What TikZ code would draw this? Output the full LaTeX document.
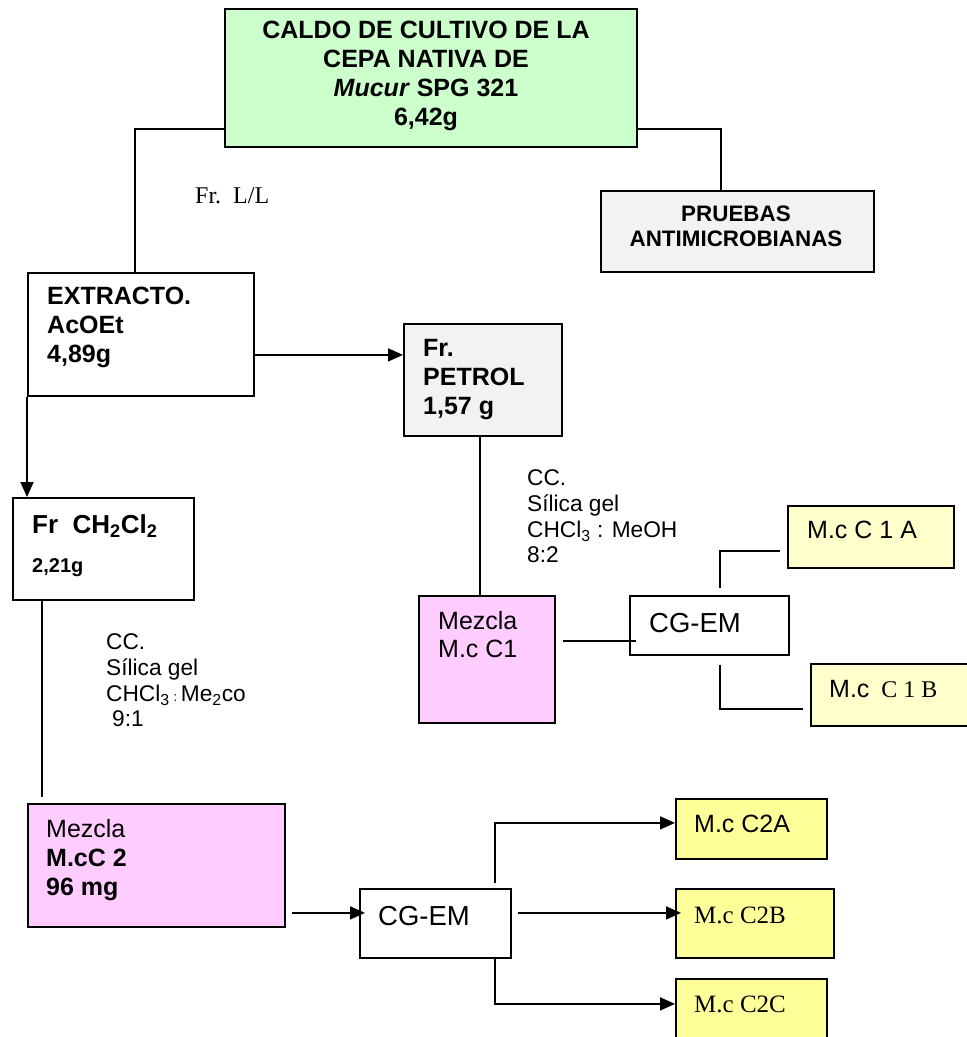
\documentclass[tikz,border=0pt]{standalone}
\usepackage{fontspec}
\setmainfont{Liberation Sans}
\newfontfamily\tnr{Liberation Serif}
\usetikzlibrary{arrows.meta}
\definecolor{cgreen}{HTML}{CCFFCC}
\definecolor{cgray}{HTML}{F2F2F2}
\definecolor{cpink}{HTML}{FFCCFF}
\definecolor{cpale}{HTML}{FFFFCC}
\definecolor{cyel}{HTML}{FFFF99}
\newcommand\fsz[2]{\fontsize{#1}{#2}\selectfont}
\begin{document}
\begin{tikzpicture}[x=1pt,y=-1pt,
  box/.style={draw=black, line width=1.8pt, inner sep=0pt, anchor=north west},
  conn/.style={line width=1.7pt},
  arr/.style={conn, -{Triangle[length=15pt,width=13pt]}},
  txt/.style={inner sep=0pt, align=left},
]
\useasboundingbox[fill=white] (0,0) rectangle (967,1037);

% boxes
\node[box, fill=cgreen, minimum width=412pt, minimum height=138pt] (top) at (224,8) {};
\node[box, fill=cgray, minimum width=273pt, minimum height=81pt] (pru) at (600,190) {};
\node[box, fill=white, minimum width=226pt, minimum height=123pt] (ext) at (27,272) {};
\node[box, fill=cgray, minimum width=158pt, minimum height=112pt] (pet) at (403,323) {};
\node[box, fill=white, minimum width=181pt, minimum height=102pt] (ch) at (12,497) {};
\node[box, fill=cpink, minimum width=136pt, minimum height=127pt] (mc1) at (418,595) {};
\node[box, fill=white, minimum width=159pt, minimum height=59pt] (cg1) at (629,595) {};
\node[box, fill=cpale, minimum width=166pt, minimum height=62pt] (c1a) at (787,505) {};
\node[box, fill=cpale, minimum width=158pt, minimum height=62pt] (c1b) at (810,663) {};
\node[box, fill=cpink, minimum width=257pt, minimum height=123pt] (mc2) at (27,803) {};
\node[box, fill=white, minimum width=151pt, minimum height=69pt] (cg2) at (359,888) {};
\node[box, fill=cyel, minimum width=151pt, minimum height=60pt] (c2a) at (675,798) {};
\node[box, fill=cyel, minimum width=158pt, minimum height=69pt] (c2b) at (675,888) {};
\node[box, fill=cyel, minimum width=151pt, minimum height=64pt] (c2c) at (675,978) {};

% texts
\node[txt, align=center, anchor=north, font=\fsz{25}{29}\bfseries] (toptxt) at (426,21.1)
  {CALDO DE CULTIVO DE LA\\CEPA NATIVA DE\\\textit{Mucur} SPG 321\\6,42g};
\node[txt, align=center, anchor=north, font=\fsz{22.4}{25}\bfseries] (prutxt) at (736,206)
  {PRUEBAS\\ANTIMICROBIANAS};
\node[txt, anchor=base west, font=\fsz{24}{28}\tnr] (fll) at (195,203) {Fr.\ \ L/L};
\node[txt, anchor=north west, font=\fsz{25}{29}\bfseries] (exttxt) at (47,287.1)
  {EXTRACTO.\\AcOEt\\4,89g};
\node[txt, anchor=north west, font=\fsz{25}{29}\bfseries] (pettxt) at (423,339.1)
  {Fr.\\PETROL\\1,57 g};
\node[txt, anchor=north west, font=\fsz{22.7}{25.7}] (cc1) at (527,469.7)
  {CC.\\S\'ilica gel\\CHCl\textsubscript{3} : MeOH\\8:2};
\node[txt, anchor=north west, font=\fsz{25}{28}] (mc1txt) at (438,611.1)
  {Mezcla\\M.c C1};
\node[txt, anchor=base west, font=\fsz{27.5}{30}] (cg1txt) at (649,632) {CG-EM};
\node[txt, anchor=base west, font=\fsz{25}{28}] (c1atxt) at (807,538) {M.c C 1 A};
\node[txt, anchor=base west, font=\fsz{25}{28}] (c1btxt) at (829,697) {M.c\hspace{12pt}{\tnr\fsz{24}{28}C 1 B}};
\node[txt, anchor=base west, font=\fsz{26}{30}\bfseries] (chtxt) at (32,533)
  {Fr\ \ CH\textsubscript{2}Cl\textsubscript{2}};
\node[txt, anchor=base west, font=\fsz{20}{24}\bfseries] (chg) at (32,572) {2,21g};
\node[txt, anchor=north west, font=\fsz{22.7}{25.7}] (cc2) at (106,633.7)
  {CC.\\S\'ilica gel\\CHCl\textsubscript{3}\,{\fsz{13}{14}:}\,Me\textsubscript{2}co\\\hspace{6pt}9:1};
\node[txt, anchor=north west, font=\fsz{25}{29}] (mc2txt) at (46,819.1)
  {Mezcla\\\textbf{M.cC 2}\\\textbf{96 mg}};
\node[txt, anchor=base west, font=\fsz{27.5}{30}] (cg2txt) at (378,925) {CG-EM};
\node[txt, anchor=base west, font=\fsz{25}{28}] (c2atxt) at (694,832) {M.c C2A};
\node[txt, anchor=base west, font=\fsz{25}{29}\tnr] (c2btxt) at (694,923) {M.c C2B};
\node[txt, anchor=base west, font=\fsz{25}{29}\tnr] (c2ctxt) at (694,1012) {M.c C2C};

% connectors
\draw[conn] ([yshift=-51pt]top.west) -| ([xshift=-6pt]ext.north);
\draw[conn] ([yshift=-51pt]top.east) -| ([xshift=-16.5pt]pru.north);
\draw[arr] ([yshift=-20.5pt]ext.east) -- ([yshift=-20.5pt]ext.east -| pet.west);
\draw[arr] (ext.south west) -- (ext.south west |- ch.north);
\draw[conn] ([xshift=-3pt]pet.south) -- ([xshift=-3pt]pet.south |- mc1.north);
\draw[conn] ([xshift=7pt,yshift=18.5pt]mc1.east) -- ([xshift=7pt,yshift=18.5pt]mc1.east -| cg1.west);
\draw[conn] ([xshift=10.5pt,yshift=7pt]cg1.north) |- ([xshift=-7pt,yshift=-14pt]c1a.west);
\draw[conn] ([xshift=10.5pt,yshift=-9pt]cg1.south) |- ([xshift=-7pt,yshift=-14pt]c1b.west);
\draw[conn] ([xshift=30pt]ch.south west) -- ([xshift=15pt,yshift=6pt]mc2.north west);
\draw[arr] ([xshift=6pt,yshift=-47.5pt]mc2.east) -- ([xshift=6pt,yshift=-47.5pt]mc2.east -| cg2.west);
\draw[arr] ([xshift=59.5pt,yshift=5pt]cg2.north) |- ([yshift=6pt]c2a.west);
\draw[arr] ([xshift=6pt,yshift=10.5pt]cg2.east) -- ([xshift=6pt,yshift=10.5pt]cg2.east -| c2b.west);
\draw[arr] ([xshift=59.5pt]cg2.south) |- ([yshift=7pt]c2c.west);
\end{tikzpicture}
\end{document}
